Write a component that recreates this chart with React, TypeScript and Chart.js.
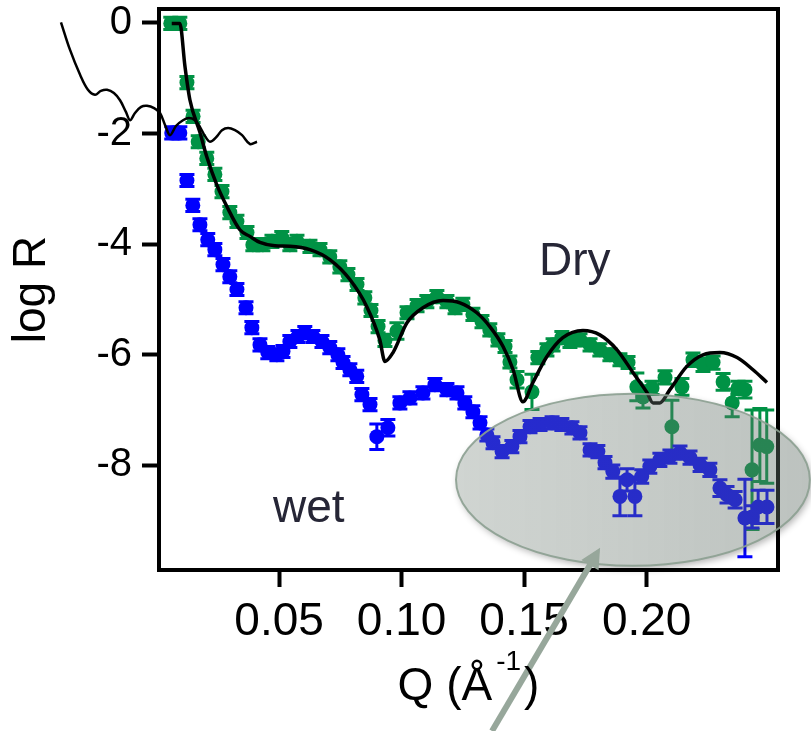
import React, { useEffect, useRef } from "react";
import { Chart, registerables } from "chart.js";

Chart.register(...registerables);

const FONT = '"Liberation Sans", Arial, Helvetica, sans-serif';

// ---- axis ticks ----
const xTickValues = [0.05, 0.1, 0.15, 0.2];
const yTickValues = [0, -2, -4, -6, -8];

// ---- Dry sample (green) ----
const dryQ = [
  0.0058, 0.0095, 0.0124, 0.0149, 0.017, 0.0205, 0.0238, 0.0267, 0.0299, 0.0328,
  0.0369, 0.0393, 0.0434, 0.0471, 0.0511, 0.0544, 0.0573, 0.0626, 0.0667, 0.0707,
  0.0748, 0.0781, 0.0818, 0.085, 0.0875, 0.0904, 0.0932, 0.0981, 0.1022, 0.1063,
  0.1103, 0.1144, 0.1185, 0.1218, 0.125, 0.1291, 0.1328, 0.136, 0.1393, 0.1422,
  0.1442, 0.1471, 0.1532, 0.1556, 0.1593, 0.1618, 0.1654, 0.1687, 0.1728, 0.1769,
  0.1809, 0.185, 0.1891, 0.1924, 0.196, 0.1985, 0.2022, 0.2075, 0.2103, 0.2144,
  0.2189, 0.223, 0.2271, 0.2312, 0.2349, 0.2373, 0.2401, 0.243, 0.2462, 0.249,
];
const dryLogR = [
  -0.01, -0.01, -1.08, -1.69, -2.15, -2.45, -2.74, -3.05, -3.43, -3.59,
  -3.79, -4.01, -4.01, -3.95, -3.88, -4.01, -3.95, -4.04, -4.1, -4.23,
  -4.41, -4.55, -4.73, -4.97, -5.2, -5.49, -5.74, -5.57, -5.24, -5.11,
  -5.04, -4.95, -5.04, -5.15, -5.09, -5.27, -5.4, -5.55, -5.73, -5.85,
  -6.13, -6.45, -6.67, -6.05, -5.91, -5.82, -5.69, -5.76, -5.73, -5.82,
  -5.91, -6.0, -6.09, -6.14, -6.58, -6.76, -6.6, -6.41, -7.3, -6.58,
  -6.09, -6.18, -6.14, -6.49, -6.87, -6.6, -6.63, -8.08, -7.63, -7.66,
];
const dryErr = [
  0.11, 0.11, 0.11, 0.11, 0.11, 0.11, 0.11, 0.11, 0.11, 0.11,
  0.11, 0.11, 0.11, 0.11, 0.11, 0.11, 0.11, 0.11, 0.11, 0.11,
  0.11, 0.11, 0.11, 0.11, 0.11, 0.11, 0.11, 0.15, 0.11, 0.11,
  0.11, 0.11, 0.11, 0.11, 0.11, 0.11, 0.11, 0.11, 0.11, 0.11,
  0.11, 0.15, 0.32, 0.11, 0.11, 0.11, 0.11, 0.11, 0.11, 0.11,
  0.11, 0.11, 0.11, 0.11, 0.25, 0.2, 0.12, 0.12, 0.48, 0.15,
  0.12, 0.12, 0.12, 0.15, 0.25, 0.12, 0.15, 1.08, 0.66, 0.66,
];

// ---- Wet sample (blue) ----
const wetQ = [
  0.0062, 0.0095, 0.0124, 0.0148, 0.0177, 0.0209, 0.0238, 0.0271, 0.0299, 0.0328,
  0.0365, 0.0389, 0.0422, 0.0454, 0.0491, 0.0516, 0.0544, 0.0577, 0.0605, 0.0638,
  0.0675, 0.0707, 0.074, 0.0761, 0.0789, 0.0817, 0.0838, 0.0871, 0.0899, 0.0944,
  0.0993, 0.1034, 0.1087, 0.1136, 0.1185, 0.1226, 0.1258, 0.1291, 0.132, 0.1348,
  0.1373, 0.141, 0.145, 0.1483, 0.1524, 0.1565, 0.1614, 0.1654, 0.1695, 0.1728,
  0.1769, 0.1801, 0.183, 0.1862, 0.1891, 0.192, 0.1952, 0.198, 0.2013, 0.2054,
  0.2095, 0.2136, 0.2177, 0.2218, 0.2258, 0.2299, 0.2328, 0.2361, 0.2401, 0.243,
  0.2455, 0.2491,
];
const wetLogR = [
  -1.99, -1.99, -2.85, -3.3, -3.65, -3.92, -4.1, -4.37, -4.59, -4.82,
  -5.15, -5.51, -5.82, -5.96, -6.0, -5.94, -5.76, -5.67, -5.6, -5.67,
  -5.76, -5.87, -6.0, -6.14, -6.27, -6.39, -6.72, -6.9, -7.48, -7.32,
  -6.87, -6.78, -6.69, -6.54, -6.63, -6.69, -6.87, -7.03, -7.23, -7.45,
  -7.59, -7.75, -7.66, -7.48, -7.3, -7.26, -7.23, -7.26, -7.32, -7.41,
  -7.72, -7.75, -7.95, -8.11, -8.56, -8.26, -8.56, -8.2, -8.02, -7.9,
  -7.84, -7.77, -7.86, -7.99, -8.08, -8.41, -8.53, -8.62, -8.95, -8.93,
  -8.75, -8.75,
];
const wetErr = [
  0.11, 0.11, 0.11, 0.11, 0.11, 0.11, 0.11, 0.11, 0.11, 0.11,
  0.11, 0.11, 0.11, 0.11, 0.11, 0.11, 0.11, 0.11, 0.11, 0.11,
  0.11, 0.11, 0.11, 0.11, 0.11, 0.11, 0.11, 0.11, 0.23, 0.15,
  0.11, 0.11, 0.11, 0.11, 0.11, 0.11, 0.11, 0.11, 0.11, 0.11,
  0.11, 0.11, 0.11, 0.11, 0.11, 0.11, 0.11, 0.11, 0.11, 0.11,
  0.11, 0.11, 0.11, 0.12, 0.35, 0.2, 0.35, 0.12, 0.12, 0.12,
  0.12, 0.12, 0.12, 0.12, 0.12, 0.15, 0.15, 0.15, 0.7, 0.2,
  0.3, 0.3,
];

// ---- fit to Dry data (black) ----
const fitQ = [
  0.0062, 0.0095, 0.0116, 0.0136, 0.0177, 0.0205, 0.0246, 0.0287, 0.034, 0.0381,
  0.0422, 0.0483, 0.0544, 0.0626, 0.0707, 0.0789, 0.0858, 0.0911, 0.0932, 0.0965,
  0.1022, 0.1087, 0.1169, 0.1238, 0.1307, 0.136, 0.1414, 0.1455, 0.1495, 0.1536,
  0.1593, 0.1658, 0.174, 0.1809, 0.1879, 0.1944, 0.2001, 0.2026, 0.2054, 0.2095,
  0.2164, 0.223, 0.2299, 0.2369, 0.2434, 0.2491,
];
const fitLogR = [
  -0.01, -0.01, -0.79, -1.39, -1.98, -2.42, -2.93, -3.32, -3.74, -3.86,
  -3.97, -4.03, -4.04, -4.1, -4.28, -4.64, -5.13, -5.73, -6.12, -5.96,
  -5.42, -5.15, -5.02, -5.06, -5.24, -5.49, -5.85, -6.27, -6.85, -6.5,
  -6.03, -5.69, -5.56, -5.64, -5.91, -6.32, -6.68, -6.87, -6.87, -6.63,
  -6.21, -6.0, -5.96, -6.05, -6.27, -6.5,
];

// ---- stray black trace in the upper-left corner (listed from right to left) ----
const traceQ = [
  0.041, 0.0381, 0.0349, 0.032, 0.0292, 0.0267, 0.0247, 0.0218, 0.0198, 0.0177,
  0.0157, 0.0132, 0.0108, 0.008, 0.0055, 0.0035, 0.0014, -0.001, -0.0039, -0.0063,
  -0.0088, -0.0108, -0.0125, -0.0149, -0.0174, -0.0202, -0.0227, -0.0251, -0.028, -0.0312,
  -0.0353, -0.039,
];
const traceLogR = [
  -2.15, -2.19, -2.03, -1.94, -1.9, -1.94, -2.05, -2.15, -2.05, -1.88,
  -1.76, -1.72, -1.76, -1.86, -2.03, -1.85, -1.63, -1.54, -1.5, -1.52,
  -1.63, -1.76, -1.61, -1.4, -1.27, -1.21, -1.23, -1.3, -1.21, -0.94,
  -0.49, 0.01,
];

// ---- annotations (data coordinates) ----
const dryLabel = { text: "Dry", q: 0.1561, logR: -4.56 };
const wetLabel = { text: "wet", q: 0.0475, logR: -9.02 };
const highlight = { q: 0.1944, logR: -8.26, rq: 0.0722, rlogR: 1.554 };
const arrowFrom = { q: 0.1369, logR: -12.8 };
const arrowTo = { q: 0.181, logR: -9.49 };

const GREEN = "#009245";
const BLUE = "#0000ff";

const pts = (xs: number[], ys: number[]) => xs.map((x, i) => ({ x, y: ys[i] }));

const errorBarPlugin = {
  id: "errorBars",
  beforeDatasetDraw(chart: any, args: any) {
    const ds = chart.data.datasets[args.index];
    if (!ds.errors) return;
    const { ctx, scales } = chart;
    const xs = scales.x;
    const ys = scales.y;
    const CAP = 7.5;
    ctx.save();
    ctx.strokeStyle = ds.backgroundColor;
    ctx.lineWidth = 3;
    ds.data.forEach((p: any, i: number) => {
      const e = ds.errors[i];
      const px = xs.getPixelForValue(p.x);
      const top = ys.getPixelForValue(p.y + e);
      const bot = ys.getPixelForValue(p.y - e);
      ctx.beginPath();
      ctx.moveTo(px, top);
      ctx.lineTo(px, bot);
      ctx.moveTo(px - CAP, top);
      ctx.lineTo(px + CAP, top);
      ctx.moveTo(px - CAP, bot);
      ctx.lineTo(px + CAP, bot);
      ctx.stroke();
    });
    ctx.restore();
  },
};

const framePlugin = {
  id: "frame",
  afterDatasetsDraw(chart: any) {
    const { ctx, chartArea: a } = chart;
    ctx.save();
    ctx.strokeStyle = "#000";
    ctx.lineWidth = 4;
    ctx.lineJoin = "miter";
    ctx.strokeRect(a.left, a.top, a.right - a.left, a.bottom - a.top);
    ctx.restore();
  },
};

const overlayPlugin = {
  id: "overlay",
  afterDraw(chart: any) {
    const { ctx, scales, chartArea: a, width, height } = chart;
    const xs = scales.x;
    const ys = scales.y;

    // highlight ellipse
    const cx = xs.getPixelForValue(highlight.q);
    const cy = ys.getPixelForValue(highlight.logR);
    const rx = xs.getPixelForValue(highlight.q + highlight.rq) - cx;
    const ry = ys.getPixelForValue(highlight.logR - highlight.rlogR) - cy;

    // soft shadow outside the ellipse only
    ctx.save();
    ctx.beginPath();
    ctx.rect(0, 0, width, height);
    ctx.ellipse(cx, cy, rx, ry, 0, 0, Math.PI * 2);
    ctx.clip("evenodd");
    ctx.shadowColor = "rgba(0,0,0,0.3)";
    ctx.shadowBlur = 7;
    ctx.shadowOffsetX = 10000 + 2;
    ctx.shadowOffsetY = 3;
    ctx.beginPath();
    ctx.ellipse(cx - 10000, cy, rx, ry, 0, 0, Math.PI * 2);
    ctx.fillStyle = "#000";
    ctx.fill();
    ctx.restore();

    ctx.save();
    const g = ctx.createLinearGradient(cx - rx, cy, cx + rx, cy);
    g.addColorStop(0, "rgba(112,126,116,0.33)");
    g.addColorStop(1, "rgba(96,110,102,0.42)");
    ctx.beginPath();
    ctx.ellipse(cx, cy, rx, ry, 0, 0, Math.PI * 2);
    ctx.fillStyle = g;
    ctx.fill();
    ctx.lineWidth = 2;
    ctx.strokeStyle = "rgba(140,160,145,0.9)";
    ctx.stroke();
    ctx.restore();

    // arrow
    const x1 = xs.getPixelForValue(arrowFrom.q);
    const y1 = ys.getPixelForValue(arrowFrom.logR);
    const x2 = xs.getPixelForValue(arrowTo.q);
    const y2 = ys.getPixelForValue(arrowTo.logR);
    const ang = Math.atan2(y2 - y1, x2 - x1);
    const hl = 20;
    const hw = 10;
    ctx.save();
    ctx.strokeStyle = "#97a79b";
    ctx.fillStyle = "#97a79b";
    ctx.lineWidth = 6;
    ctx.beginPath();
    ctx.moveTo(x1, y1);
    ctx.lineTo(x2 - Math.cos(ang) * hl * 0.8, y2 - Math.sin(ang) * hl * 0.8);
    ctx.stroke();
    ctx.beginPath();
    ctx.moveTo(x2, y2);
    ctx.lineTo(
      x2 - Math.cos(ang) * hl + Math.sin(ang) * hw,
      y2 - Math.sin(ang) * hl - Math.cos(ang) * hw
    );
    ctx.lineTo(
      x2 - Math.cos(ang) * hl - Math.sin(ang) * hw,
      y2 - Math.sin(ang) * hl + Math.cos(ang) * hw
    );
    ctx.closePath();
    ctx.fill();
    ctx.restore();

    // in-plot labels
    ctx.save();
    ctx.fillStyle = "#262636";
    ctx.font = `46px ${FONT}`;
    ctx.textBaseline = "alphabetic";
    ctx.textAlign = "left";
    ctx.fillText(dryLabel.text, xs.getPixelForValue(dryLabel.q), ys.getPixelForValue(dryLabel.logR));
    ctx.fillText(wetLabel.text, xs.getPixelForValue(wetLabel.q), ys.getPixelForValue(wetLabel.logR));
    ctx.restore();

    // x-axis title with superscript
    ctx.save();
    ctx.fillStyle = "#000";
    ctx.textBaseline = "alphabetic";
    ctx.textAlign = "left";
    const base = "Q (Å";
    const sup = "-1";
    const close = ")";
    ctx.font = `46px ${FONT}`;
    const w1 = ctx.measureText(base).width;
    const w3 = ctx.measureText(close).width;
    ctx.font = `28px ${FONT}`;
    const w2 = ctx.measureText(sup).width;
    const total = w1 + 4 + w2 + 3 + w3;
    const sx = (a.left + a.right) / 2 - total / 2;
    const baseY = height - 31;
    ctx.font = `46px ${FONT}`;
    ctx.fillText(base, sx, baseY);
    ctx.font = `28px ${FONT}`;
    ctx.fillText(sup, sx + w1 + 4, baseY - 30);
    ctx.font = `46px ${FONT}`;
    ctx.fillText(close, sx + w1 + 4 + w2 + 3, baseY);
    ctx.restore();
  },
};

export default function App() {
  const ref = useRef<HTMLCanvasElement>(null);

  useEffect(() => {
    const chart = new Chart(ref.current!, {
      type: "scatter",
      data: {
        datasets: [
          {
            type: "line",
            label: "fit",
            data: pts(fitQ, fitLogR),
            borderColor: "#000",
            borderWidth: 3.5,
            pointRadius: 0,
            cubicInterpolationMode: "monotone",
            fill: false,
            order: 1,
          } as any,
          {
            type: "line",
            label: "trace",
            data: pts(traceQ, traceLogR),
            borderColor: "#000",
            borderWidth: 2.5,
            pointRadius: 0,
            tension: 0.35,
            fill: false,
            clip: false,
            order: 1,
          } as any,
          {
            label: "wet",
            data: pts(wetQ, wetLogR),
            backgroundColor: BLUE,
            borderWidth: 0,
            pointRadius: 7.5,
            errors: wetErr,
            order: 2,
          } as any,
          {
            label: "Dry",
            data: pts(dryQ, dryLogR),
            backgroundColor: GREEN,
            borderWidth: 0,
            pointRadius: 7.5,
            errors: dryErr,
            order: 3,
          } as any,
        ],
      },
      options: {
        animation: false,
        responsive: true,
        maintainAspectRatio: false,
        layout: { padding: { top: 9, right: 33, bottom: 0, left: 0 } },
        plugins: { legend: { display: false }, tooltip: { enabled: false } },
        scales: {
          x: {
            type: "linear",
            min: 0.001,
            max: 0.2536,
            afterBuildTicks: (s: any) => {
              s.ticks = xTickValues.map((v) => ({ value: v }));
            },
            afterFit: (s: any) => {
              s.height = 161;
              s.paddingLeft = 0;
              s.paddingRight = 0;
            },
            ticks: {
              callback: (v: any) => Number(v).toFixed(2),
              font: { family: FONT, size: 46 },
              color: "#000",
              padding: 8,
              maxRotation: 0,
              autoSkip: false,
            },
            grid: {
              drawOnChartArea: false,
              drawTicks: true,
              tickLength: 17,
              tickWidth: 4,
              tickColor: "#000",
            },
            border: { display: true, color: "#000", width: 4 },
          },
          y: {
            type: "linear",
            min: -9.89,
            max: 0.25,
            afterBuildTicks: (s: any) => {
              s.ticks = yTickValues.map((v) => ({ value: v }));
            },
            afterFit: (s: any) => {
              s.width = 159;
              s.paddingTop = 0;
              s.paddingBottom = 0;
            },
            ticks: {
              callback: (v: any) => String(v),
              font: { family: FONT, size: 40 },
              color: "#000",
              padding: 10,
              autoSkip: false,
            },
            grid: {
              drawOnChartArea: false,
              drawTicks: true,
              tickLength: 17,
              tickWidth: 4,
              tickColor: "#000",
            },
            border: { display: true, color: "#000", width: 4 },
            title: {
              display: true,
              text: "log R",
              font: { family: FONT, size: 46 },
              color: "#000",
              padding: { top: 5, bottom: 0 },
            },
          },
        },
      },
      plugins: [errorBarPlugin, framePlugin, overlayPlugin],
    } as any);
    return () => chart.destroy();
  }, []);

  return (
    <div style={{ position: "absolute", left: 0, top: 0, width: 811, height: 731 }}>
      <canvas ref={ref} />
    </div>
  );
}
